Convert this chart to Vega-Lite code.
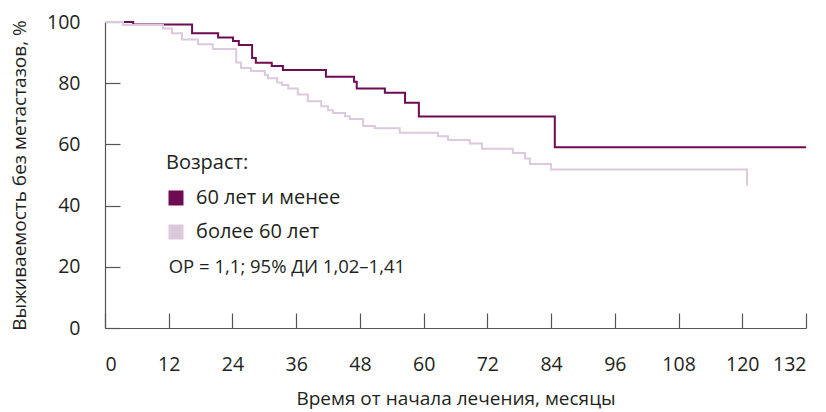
{
  "$schema": "https://vega.github.io/schema/vega-lite/v6.json",
  "width": 701,
  "height": 306,
  "autosize": "none",
  "padding": {"left": 105, "top": 22, "right": 20, "bottom": 84},
  "background": "white",
  "config": {
    "view": {"stroke": null},
    "font": "Open Sans",
    "axis": {
      "grid": false,
      "domainColor": "#555555",
      "tickColor": "#555555",
      "domainWidth": 1.2,
      "tickWidth": 1.2,
      "labelFont": "Open Sans",
      "titleFont": "Open Sans",
      "labelFontSize": 19.5,
      "titleFontSize": 19,
      "labelColor": "#231f20",
      "titleColor": "#231f20",
      "titleFontWeight": "normal"
    }
  },
  "layer": [
    {
      "data": {
        "values": [
          {"group": "60 лет и менее", "t": 0, "s": 100},
          {"group": "60 лет и менее", "t": 5.3, "s": 99.2},
          {"group": "60 лет и менее", "t": 16.4, "s": 96.3},
          {"group": "60 лет и менее", "t": 21.3, "s": 94.9},
          {"group": "60 лет и менее", "t": 24.1, "s": 93.8},
          {"group": "60 лет и менее", "t": 25.2, "s": 92.5},
          {"group": "60 лет и менее", "t": 27.7, "s": 88.2},
          {"group": "60 лет и менее", "t": 28.4, "s": 86.7},
          {"group": "60 лет и менее", "t": 31.4, "s": 85.6},
          {"group": "60 лет и менее", "t": 33.5, "s": 84.3},
          {"group": "60 лет и менее", "t": 41.6, "s": 82.1},
          {"group": "60 лет и менее", "t": 46.9, "s": 80.5},
          {"group": "60 лет и менее", "t": 47.4, "s": 78.3},
          {"group": "60 лет и менее", "t": 52.7, "s": 76.9},
          {"group": "60 лет и менее", "t": 56.5, "s": 73.6},
          {"group": "60 лет и менее", "t": 59.1, "s": 69.1},
          {"group": "60 лет и менее", "t": 84.7, "s": 59.1},
          {"group": "60 лет и менее", "t": 132, "s": 59.1},
          {"group": "более 60 лет", "t": 0, "s": 100},
          {"group": "более 60 лет", "t": 3.4, "s": 99.0},
          {"group": "более 60 лет", "t": 10.9, "s": 97.9},
          {"group": "более 60 лет", "t": 12.6, "s": 96.3},
          {"group": "более 60 лет", "t": 14.5, "s": 94.3},
          {"group": "более 60 лет", "t": 17.5, "s": 92.7},
          {"group": "более 60 лет", "t": 20.3, "s": 91.2},
          {"group": "более 60 лет", "t": 24.7, "s": 86.8},
          {"group": "более 60 лет", "t": 25.6, "s": 85.0},
          {"group": "более 60 лет", "t": 27.5, "s": 84.0},
          {"group": "более 60 лет", "t": 30.1, "s": 82.7},
          {"group": "более 60 лет", "t": 30.7, "s": 81.6},
          {"group": "более 60 лет", "t": 32.4, "s": 80.2},
          {"group": "более 60 лет", "t": 33.3, "s": 79.4},
          {"group": "более 60 лет", "t": 34.5, "s": 78.3},
          {"group": "более 60 лет", "t": 36.3, "s": 76.3},
          {"group": "более 60 лет", "t": 38.2, "s": 74.1},
          {"group": "более 60 лет", "t": 40.7, "s": 72.5},
          {"group": "более 60 лет", "t": 42.0, "s": 71.2},
          {"group": "более 60 лет", "t": 42.9, "s": 70.3},
          {"group": "более 60 лет", "t": 45.2, "s": 69.2},
          {"group": "более 60 лет", "t": 46.1, "s": 68.3},
          {"group": "более 60 лет", "t": 48.6, "s": 66.0},
          {"group": "более 60 лет", "t": 50.8, "s": 65.3},
          {"group": "более 60 лет", "t": 55.5, "s": 63.8},
          {"group": "более 60 лет", "t": 62.7, "s": 62.7},
          {"group": "более 60 лет", "t": 64.6, "s": 61.4},
          {"group": "более 60 лет", "t": 68.7, "s": 60.3},
          {"group": "более 60 лет", "t": 71.0, "s": 58.6},
          {"group": "более 60 лет", "t": 76.8, "s": 57.2},
          {"group": "более 60 лет", "t": 79.1, "s": 55.4},
          {"group": "более 60 лет", "t": 80.0, "s": 53.6},
          {"group": "более 60 лет", "t": 84.0, "s": 51.8},
          {"group": "более 60 лет", "t": 120.9, "s": 46.5}
        ]
      },
      "mark": {"type": "line", "interpolate": "step-after", "strokeWidth": 2},
      "encoding": {
        "x": {
          "field": "t", "type": "quantitative",
          "scale": {"domain": [0, 132], "nice": false, "zero": false},
          "axis": {
            "values": [0, 12, 24, 36, 48, 60, 72, 84, 96, 108, 120, 132],
            "tickSize": -15,
            "labelPadding": 42,
            "title": "Время от начала лечения, месяцы",
            "titlePadding": 16
          }
        },
        "y": {
          "field": "s", "type": "quantitative",
          "scale": {"domain": [0, 100], "nice": false},
          "axis": {
            "values": [0, 20, 40, 60, 80, 100],
            "tickSize": -15,
            "labelPadding": 40,
            "title": "Выживаемость без метастазов, %",
            "titlePadding": 17
          }
        },
        "color": {
          "field": "group", "type": "nominal",
          "scale": {"domain": ["60 лет и менее", "более 60 лет"], "range": ["#6e0b53", "#ddc9dd"]},
          "legend": {
            "title": "Возраст:",
            "orient": "none",
            "legendX": 61,
            "legendY": 131,
            "titleFontSize": 20,
            "titleFontWeight": "normal",
            "titleColor": "#231f20",
            "titlePadding": 15,
            "labelFontSize": 20,
            "labelColor": "#231f20",
            "labelFont": "Open Sans",
            "titleFont": "Open Sans",
            "symbolType": "square",
            "symbolSize": 225,
            "symbolStrokeWidth": 0,
            "rowPadding": 14,
            "labelOffset": 10,
            "encode": {
              "symbols": {"update": {"fill": {"scale": "color", "field": "value"}, "strokeWidth": {"value": 0}}}
            }
          }
        }
      }
    },
    {
      "data": {"values": [{"note": "ОР = 1,1; 95% ДИ 1,02–1,41"}]},
      "mark": {"type": "text", "align": "left", "baseline": "middle", "fontSize": 18.5, "font": "Open Sans", "color": "#231f20"},
      "encoding": {
        "x": {"datum": 12, "type": "quantitative"},
        "y": {"datum": 20, "type": "quantitative"},
        "text": {"field": "note", "type": "nominal"}
      }
    }
  ]
}
